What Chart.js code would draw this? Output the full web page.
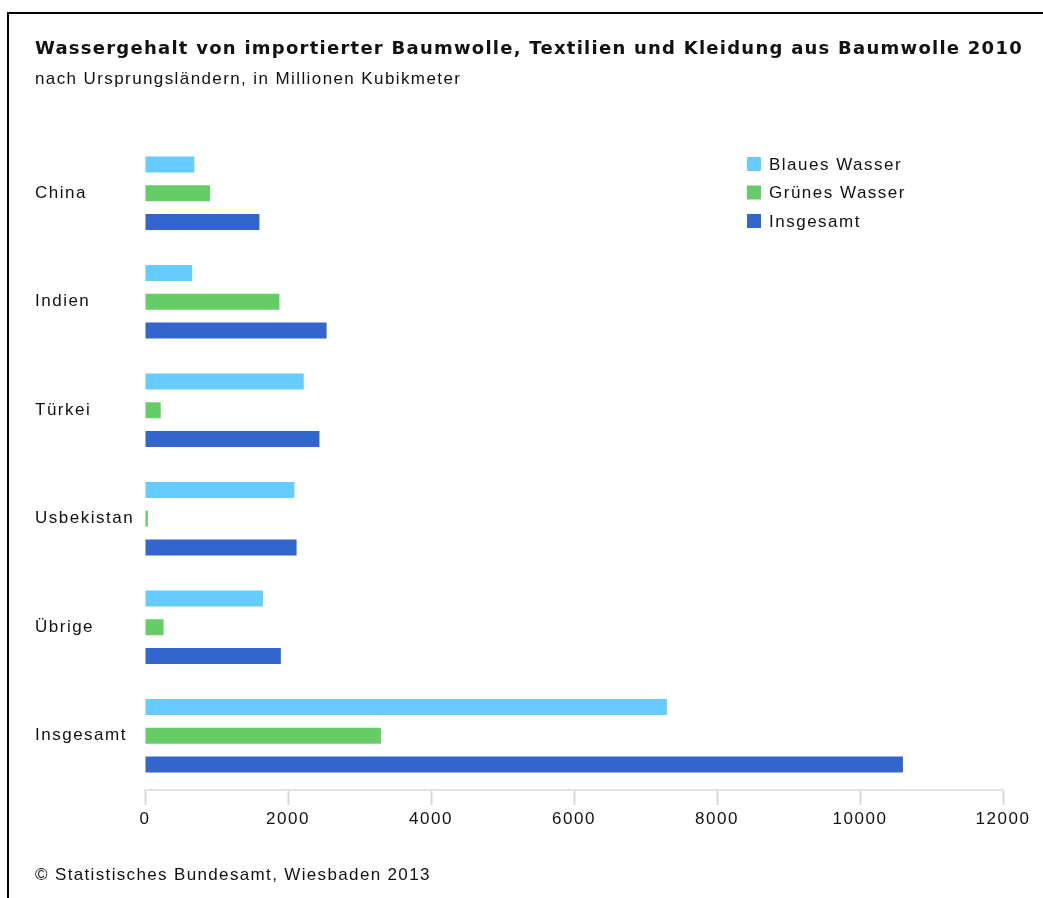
<!DOCTYPE html>
<html>
<head>
<meta charset="utf-8">
<script src="https://cdn.jsdelivr.net/npm/chart.js@4.4.1/dist/chart.umd.min.js"></script>
<style>
  html, body { margin: 0; padding: 0; background: #fff; }
  #wrap { position: absolute; left: 0; top: 0; width: 1043px; height: 898px; }
  #frame { position: absolute; left: 7px; top: 12px; width: 1100px; height: 1000px;
           border-top: 2px solid #000; border-left: 2px solid #000; pointer-events: none; }
  .txt { position: absolute; left: 35px; white-space: nowrap; color: #111;
         font-family: "Liberation Sans", Arial, sans-serif; }
  #title { top: 37px; font-family: "DejaVu Sans", sans-serif; font-size: 18px; font-weight: bold; letter-spacing: 1.25px; }
  #subtitle { top: 69px; font-size: 17px; letter-spacing: 1.4px; }
  #footer { top: 865px; font-size: 17px; letter-spacing: 1.35px; }
</style>
</head>
<body>
<div id="wrap"><canvas id="c" width="1043" height="898"></canvas></div>
<div id="frame"></div>
<div class="txt" id="title">Wassergehalt von importierter Baumwolle, Textilien und Kleidung aus Baumwolle 2010</div>
<div class="txt" id="subtitle">nach Ursprungsländern, in Millionen Kubikmeter</div>
<div class="txt" id="footer">© Statistisches Bundesamt, Wiesbaden 2013</div>
<script>
const categories = ["China", "Indien", "Türkei", "Usbekistan", "Übrige", "Insgesamt"];
const seriesNames = ["Blaues Wasser", "Grünes Wasser", "Insgesamt"];
const blauesWasser = [690, 660, 2220, 2090, 1650, 7300];
const gruenesWasser = [910, 1880, 220, 40, 260, 3300];
const insgesamt = [1600, 2540, 2440, 2120, 1900, 10600];
const xTicks = [0, 2000, 4000, 6000, 8000, 10000, 12000];
const colors = ["#66CCFF", "#66CC66", "#3366CC"];

const FONT = '"Liberation Sans", Arial, sans-serif';
const SPACING = '1.5px';

const spacingPlugin = {
  id: 'spacing',
  beforeLayout(chart) { chart.ctx.letterSpacing = SPACING; },
  beforeDraw(chart) { chart.ctx.letterSpacing = SPACING; }
};

const legendPlugin = {
  id: 'customLegend',
  afterDraw(chart) {
    const ctx = chart.ctx;
    ctx.save();
    ctx.letterSpacing = SPACING;
    ctx.font = '17px ' + FONT;
    ctx.textBaseline = 'middle';
    ctx.textAlign = 'left';
    chart.data.datasets.forEach((ds, i) => {
      const y = 164 + i * 28.5;
      ctx.fillStyle = ds.backgroundColor;
      ctx.fillRect(747, y - 7, 14, 14);
      ctx.fillStyle = '#111';
      ctx.fillText(ds.label, 769, y + 1);
    });
    ctx.restore();
  }
};

new Chart(document.getElementById('c'), {
  type: 'bar',
  data: {
    labels: categories,
    datasets: [
      { label: seriesNames[0], data: blauesWasser, backgroundColor: colors[0] },
      { label: seriesNames[1], data: gruenesWasser, backgroundColor: colors[1] },
      { label: seriesNames[2], data: insgesamt, backgroundColor: colors[2] }
    ]
  },
  options: {
    indexAxis: 'y',
    responsive: false,
    animation: false,
    devicePixelRatio: 1,
    categoryPercentage: 0.7935,
    barPercentage: 0.557,
    layout: { padding: { left: 35, right: 40, top: 139, bottom: 68 } },
    plugins: { legend: { display: false }, title: { display: false }, tooltip: { enabled: false } },
    scales: {
      y: {
        grid: { display: false },
        border: { display: false },
        ticks: { crossAlign: 'far', color: '#111', font: { family: FONT, size: 17 }, padding: 0 },
        afterFit(scale) { scale.width = 110; }
      },
      x: {
        min: 0, max: 12000,
        afterBuildTicks(scale) { scale.ticks = xTicks.map(v => ({ value: v })); },
        grid: { drawOnChartArea: false, drawTicks: true, tickLength: 15, tickColor: '#d8d8d8', tickWidth: 2 },
        border: { display: true, color: '#e2e2e2', width: 2 },
        ticks: { color: '#111', font: { family: FONT, size: 17 }, padding: 4,
                 callback: (v) => String(v) },
        afterFit(scale) { scale.height = 40; }
      }
    }
  },
  plugins: [spacingPlugin, legendPlugin]
});
</script>
</body>
</html>
